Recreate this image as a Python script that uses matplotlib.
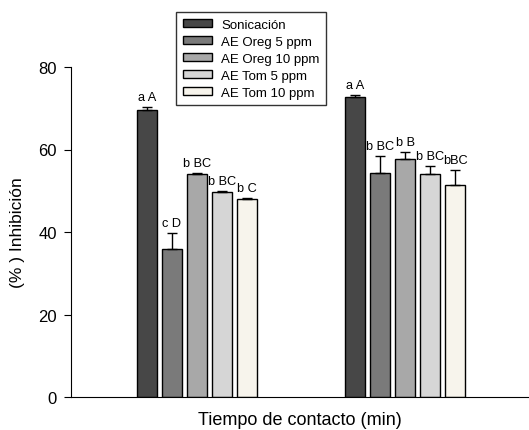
import matplotlib
matplotlib.use("Agg")
import matplotlib.pyplot as plt
import numpy as np

plt.rcParams['font.family'] = ['Liberation Sans', 'DejaVu Sans']

series = ["Sonicación", "AE Oreg 5 ppm", "AE Oreg 10 ppm", "AE Tom 5 ppm", "AE Tom 10 ppm"]
groups = [1, 2]
values = {
    "Sonicación":     [69.6, 72.7],
    "AE Oreg 5 ppm":  [35.8, 54.4],
    "AE Oreg 10 ppm": [54.0, 57.8],
    "AE Tom 5 ppm":   [49.7, 54.0],
    "AE Tom 10 ppm":  [48.0, 51.5],
}
errors = {
    "Sonicación":     [0.6, 0.4],
    "AE Oreg 5 ppm":  [4.0, 4.0],
    "AE Oreg 10 ppm": [0.2, 1.5],
    "AE Tom 5 ppm":   [0.3, 2.0],
    "AE Tom 10 ppm":  [0.3, 3.6],
}
letters = {
    "Sonicación":     ["a A", "a A"],
    "AE Oreg 5 ppm":  ["c D", "b BC"],
    "AE Oreg 10 ppm": ["b BC", "b B"],
    "AE Tom 5 ppm":   ["b BC", "b BC"],
    "AE Tom 10 ppm":  ["b C", "bBC"],
}
colors = ["#474747", "#7a7a7a", "#a8a8a8", "#d6d6d6", "#f7f4ec"]

fig = plt.figure(figsize=(5.29, 4.31), dpi=100)
ax = fig.add_axes([71/529, 33/431, (528-71)/529, (398-68)/431])

width = 0.096
step = 0.12
for i, s in enumerate(series):
    x = np.array(groups) + (i - 2) * step
    ax.bar(x, values[s], width=width, color=colors[i], edgecolor="black",
           linewidth=1.0, label=s, zorder=2)
    ax.errorbar(x, values[s], yerr=[np.zeros(2), errors[s]], fmt="none",
                ecolor="black", elinewidth=1.0, capsize=3.6, capthick=1.0, zorder=3)
    for xi, v, e, t in zip(x, values[s], errors[s], letters[s]):
        ax.text(xi, v + e + 1.0, t, ha="center", va="bottom", fontsize=9.2)

ax.set_xlim(0.3965, 2.59)
ax.set_ylim(0, 80)
ax.set_yticks([0, 20, 40, 60, 80])
ax.set_xticks([])
ax.tick_params(axis="y", direction="out", length=5, labelsize=12, pad=5)
ax.spines["top"].set_visible(False)
ax.spines["right"].set_visible(False)
ax.set_ylabel("(% ) Inhibición", fontsize=12.5, labelpad=10)
ax.set_xlabel("Tiempo de contacto (min)", fontsize=13, labelpad=10)

leg = ax.legend(loc="upper left", bbox_to_anchor=((176-71)/457, (431-13-33)/330),
                fontsize=9.5, frameon=True, fancybox=False, edgecolor="black",
                handlelength=2.25, handleheight=0.6, borderpad=0.5, labelspacing=0.38,
                handletextpad=0.68, borderaxespad=0)
leg.get_frame().set_linewidth(1.0)

fig.savefig("out.png", dpi=100)
